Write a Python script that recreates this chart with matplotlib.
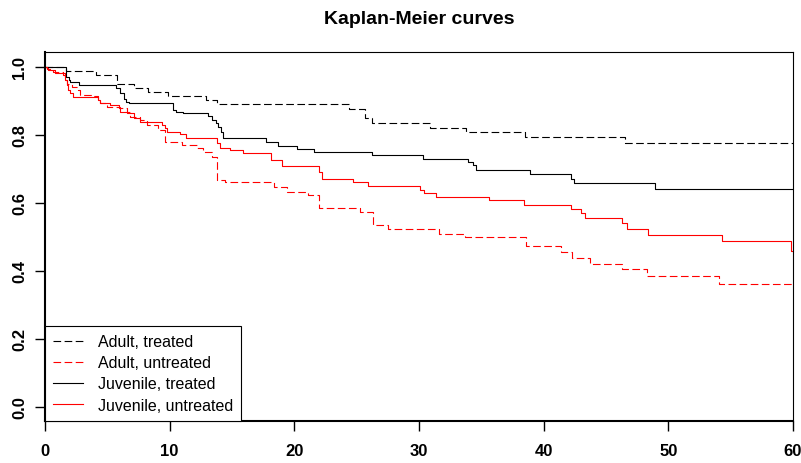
import matplotlib
matplotlib.use("Agg")
import matplotlib.pyplot as plt

plt.rcParams['font.family'] = ['Liberation Sans', 'DejaVu Sans']
plt.rcParams['lines.scale_dashes'] = False

FOLLOW_UP = 60

# Kaplan-Meier step curves (event times, survival after each event)
adult_treated_t = [1.66, 4.1, 5.8, 7.1, 8.3, 9.9, 12.9, 13.8, 24.4, 25.7, 26.2,
                   30.9, 33.8, 38.5, 46.5]
adult_treated_s = [0.987, 0.976, 0.951, 0.938, 0.926, 0.914, 0.902, 0.890, 0.875,
                   0.850, 0.834, 0.821, 0.808, 0.793, 0.775]

adult_untreated_t = [0.27, 0.67, 1.47, 1.6, 1.74, 2.14, 2.67, 2.8, 3.74, 4.28, 4.41,
                     4.95, 6.0, 6.55, 6.8, 7.6, 8.2, 9.1, 9.6, 10.95, 12.2, 12.7,
                     13.4, 13.8, 14.4, 18.4, 19.4, 21.1, 22.0, 25.3, 26.3, 27.5,
                     31.6, 33.7, 38.6, 41.4, 42.3, 43.7, 46.3, 48.3, 54.1]
adult_untreated_s = [0.992, 0.985, 0.981, 0.961, 0.951, 0.941, 0.932, 0.917, 0.914,
                     0.902, 0.893, 0.883, 0.878, 0.868, 0.853, 0.843, 0.830, 0.815,
                     0.780, 0.770, 0.761, 0.749, 0.734, 0.668, 0.660, 0.646, 0.633,
                     0.622, 0.585, 0.572, 0.536, 0.523, 0.509, 0.499, 0.472, 0.455,
                     0.438, 0.421, 0.404, 0.384, 0.362]

juvenile_treated_t = [1.68, 1.9, 2.0, 2.75, 5.7, 6.0, 6.3, 6.5, 6.7, 10.3, 10.5, 11.1,
                      13.1, 13.4, 13.7, 13.85, 14.1, 14.3, 17.7, 18.7, 20.2, 21.6,
                      26.2, 30.3, 33.95, 34.35, 34.6, 38.9, 42.2, 42.45, 48.9]
juvenile_treated_s = [0.971, 0.961, 0.956, 0.946, 0.937, 0.922, 0.907, 0.897, 0.893,
                      0.873, 0.866, 0.863, 0.855, 0.844, 0.834, 0.824, 0.809, 0.790,
                      0.778, 0.768, 0.758, 0.750, 0.740, 0.729, 0.720, 0.712, 0.696,
                      0.685, 0.671, 0.658, 0.640]

juvenile_untreated_t = [0.14, 0.4, 0.8, 1.47, 1.6, 1.74, 1.87, 2.0, 2.27, 4.28, 4.41,
                        5.2, 5.9, 6.0, 6.55, 7.1, 7.6, 9.4, 9.6, 9.8, 10.8, 11.3, 13.8,
                        14.0, 14.8, 15.85, 18.1, 19.0, 22.0, 22.2, 24.7, 25.9, 30.1,
                        30.4, 31.35, 35.6, 38.4, 42.2, 43.0, 43.3, 46.25, 46.65, 48.4,
                        54.3, 59.8]
juvenile_untreated_s = [0.995, 0.990, 0.982, 0.976, 0.961, 0.946, 0.932, 0.922, 0.912,
                        0.902, 0.893, 0.888, 0.878, 0.868, 0.863, 0.849, 0.837, 0.829,
                        0.819, 0.809, 0.802, 0.792, 0.777, 0.762, 0.754, 0.746, 0.726,
                        0.709, 0.690, 0.670, 0.660, 0.648, 0.638, 0.629, 0.617, 0.607,
                        0.594, 0.583, 0.570, 0.555, 0.541, 0.524, 0.506, 0.487, 0.457]

labels = ["Adult, treated", "Adult, untreated", "Juvenile, treated", "Juvenile, untreated"]
colors = ["black", "red", "black", "red"]
styles = ["dashed", "dashed", "solid", "solid"]

curves = [(adult_treated_t, adult_treated_s),
          (adult_untreated_t, adult_untreated_s),
          (juvenile_treated_t, juvenile_treated_s),
          (juvenile_untreated_t, juvenile_untreated_s)]

fig = plt.figure(figsize=(8.01, 4.64), dpi=100)
ax = fig.add_axes([45 / 801, 1 - 421.5 / 464, 748 / 801, 368.5 / 464])

for (t, s), lab, col, ls in zip(curves, labels, colors, styles):
    xs = [0] + t + [FOLLOW_UP]
    ys = [1.0] + s + [s[-1]]
    line, = ax.step(xs, ys, where="post", color=col, lw=0.8, label=lab)
    if ls == "dashed":
        line.set_dashes((5.5, 2.5))

ax.set_xlim(0, 60)
ax.set_ylim(-0.041, 1.044)
ax.set_xticks([0, 10, 20, 30, 40, 50, 60])
ax.set_yticks([0.0, 0.2, 0.4, 0.6, 0.8, 1.0])
ax.set_yticklabels(["0.0", "0.2", "0.4", "0.6", "0.8", "1.0"])

ax.tick_params(length=7, width=1, direction="out", labelsize=12, color="black")
ax.tick_params(axis="x", pad=9)
ax.tick_params(axis="y", pad=6, labelrotation=90)
for lab in ax.get_xticklabels() + ax.get_yticklabels():
    lab.set_fontweight("bold")
for lab in ax.get_yticklabels():
    lab.set_va("center")

for side in ["left", "bottom"]:
    ax.spines[side].set_linewidth(1.5)
for side in ["top", "right"]:
    ax.spines[side].set_linewidth(0.8)

leg = ax.legend(loc="lower left", bbox_to_anchor=(0, 0), borderaxespad=0,
                fancybox=False, edgecolor="black", framealpha=1, fontsize=11.5,
                handlelength=1.9, handletextpad=0.9, borderpad=0.5,
                labelspacing=0.38)
leg.get_frame().set_linewidth(0.8)

fig.text(419 / 801, 1 - 19 / 464, "Kaplan-Meier curves", ha="center", va="center",
         fontsize=14, fontweight="bold")

fig.savefig("out.png", dpi=100)
